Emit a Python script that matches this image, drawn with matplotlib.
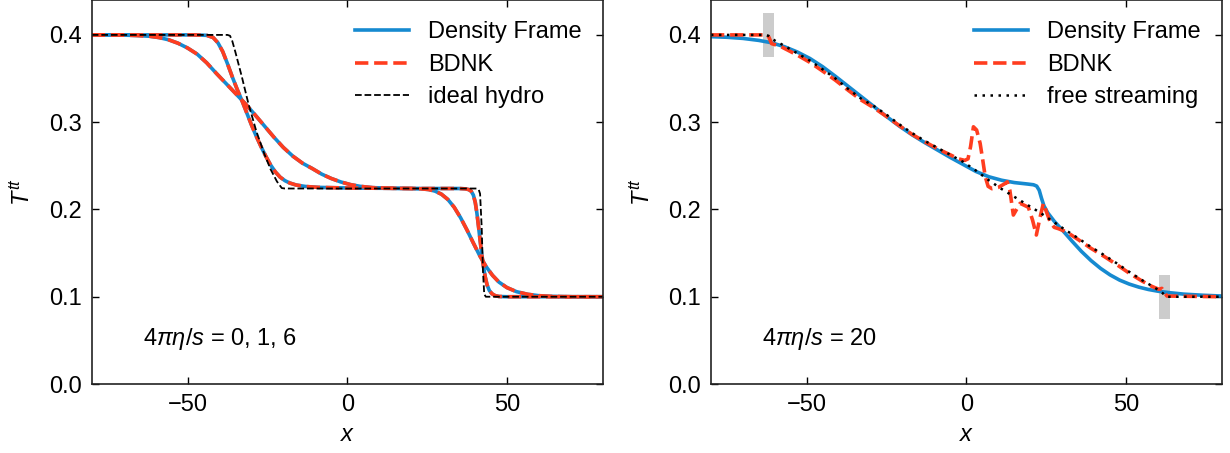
import matplotlib
matplotlib.use("Agg")
import matplotlib.pyplot as plt
import numpy as np

plt.rcParams['font.family'] = ['Liberation Sans', 'DejaVu Sans']
plt.rcParams['mathtext.fontset'] = 'custom'
plt.rcParams['mathtext.rm'] = 'Liberation Sans'
plt.rcParams['mathtext.it'] = 'Liberation Sans:italic'
plt.rcParams['font.size'] = 17

# ---- left panel: 4 pi eta/s = 0, 1, 6 ----
ideal_x = [-80, -37.5, -36.7, -36, -35, -33, -31, -28.5, -26, -24, -22, -21, -20.5, -19.5,
           40.5, 41.2, 41.6, 42.1, 42.5, 42.9, 43.4, 80]
ideal_y = [0.4, 0.4, 0.399, 0.393, 0.38, 0.352, 0.322, 0.29, 0.264, 0.246, 0.232, 0.227, 0.2245, 0.224,
           0.224, 0.2225, 0.218, 0.18, 0.13, 0.103, 0.1, 0.1]

eta1_x = [-80, -48, -44, -42, -40.5, -39, -37.5, -36, -34.5, -33, -31.5, -30, -28.5, -27, -25.5,
          -24, -22.5, -21, -19.5, -18, -16, -13, -9, 0, 20, 35, 37, 38, 38.8, 39.5, 40.1, 40.6,
          41.1, 41.6, 42.1, 42.6, 43.2, 43.8, 44.5, 45.3, 46.3, 47.5, 50, 80]
eta1_y = [0.4, 0.4, 0.3995, 0.397, 0.391, 0.381, 0.367, 0.352, 0.338, 0.325, 0.311, 0.297, 0.284,
          0.272, 0.261, 0.251, 0.243, 0.237, 0.233, 0.2303, 0.228, 0.2263, 0.2253, 0.2246, 0.224,
          0.224, 0.2236, 0.2228, 0.221, 0.2165, 0.208, 0.196, 0.181, 0.165, 0.1497, 0.136, 0.123,
          0.1135, 0.1072, 0.1035, 0.1013, 0.1003, 0.1, 0.1]

eta6_x = [-80, -72, -66, -62, -59, -56, -53, -50, -47, -44, -41, -38, -35, -32, -29, -26, -23, -20,
          -17, -14, -11, -8, -5, -2, 1, 4, 8, 14, 20, 23, 25.5, 27.5, 29.5, 31.5, 33.5, 35.5, 37.5,
          39.5, 41.5, 43.5, 45.5, 47.5, 50, 53, 56.5, 60, 64, 70, 80]
eta6_y = [0.4, 0.4, 0.3993, 0.3985, 0.397, 0.3945, 0.3905, 0.385, 0.378, 0.368, 0.356, 0.3445,
          0.333, 0.3215, 0.309, 0.296, 0.283, 0.271, 0.261, 0.253, 0.247, 0.2405, 0.2355, 0.2315,
          0.2285, 0.2265, 0.225, 0.2243, 0.224, 0.2237, 0.2228, 0.221, 0.2175, 0.2115, 0.2025,
          0.1905, 0.1765, 0.1615, 0.147, 0.1345, 0.1245, 0.1168, 0.1105, 0.1058, 0.1028, 0.1012,
          0.1004, 0.1, 0.1]

# BDNK lies on top of the density frame result in the left panel
bdnk1_x, bdnk1_y = eta1_x, eta1_y
bdnk6_x, bdnk6_y = eta6_x, eta6_y

# ---- right panel: 4 pi eta/s = 20 ----
df20_x = [-80, -75, -70, -65, -61, -57, -53, -49, -45, -41, -37, -33, -29, -25, -21, -17, -13, -9,
          -5, -1, 3, 7, 11, 15, 19, 21, 22, 22.8, 23.5, 24.3, 25.5, 27.5, 30, 33, 36, 39, 42, 45,
          48, 51, 54, 57, 60, 64, 68, 74, 80]
df20_y = [0.398, 0.3973, 0.396, 0.3937, 0.391, 0.3865, 0.3805, 0.373, 0.3635, 0.3525, 0.341,
          0.3295, 0.318, 0.3065, 0.2955, 0.2855, 0.2765, 0.268, 0.2595, 0.2515, 0.2435, 0.2375,
          0.2335, 0.2308, 0.2292, 0.2283, 0.2268, 0.222, 0.213, 0.204, 0.196, 0.1865, 0.1765,
          0.164, 0.152, 0.1415, 0.1325, 0.125, 0.119, 0.1145, 0.111, 0.1083, 0.1063, 0.1045,
          0.103, 0.1017, 0.1008]

fs_x = [-80, -63, -62, -60, -57, -53, -49, -45, -41, -37, -33, -29, -25, -21, -17, -13, -9, -5, -1,
        3, 7, 11, 15, 19, 23, 27, 31, 35, 39, 43, 47, 51, 55, 58, 60, 61.5, 62.5, 80]
fs_y = [0.4, 0.4, 0.399, 0.3935, 0.3875, 0.379, 0.3705, 0.3605, 0.35, 0.338, 0.327, 0.3185,
        0.3085, 0.2975, 0.2875, 0.2785, 0.2705, 0.2625, 0.2545, 0.2445, 0.2335, 0.2235, 0.2145,
        0.2055, 0.1965, 0.1865, 0.1765, 0.167, 0.157, 0.148, 0.1385, 0.1285, 0.119, 0.1125,
        0.108, 0.104, 0.1, 0.1]

bd20_x = [-80, -62.3, -61.8, -61, -58.3, -53, -49, -45, -41, -37, -33, -29, -25, -21, -17, -13, -9,
          -5, -2.5, -0.5, 0.5, 1.3, 2.2, 3.2, 4.3, 5.1, 5.9, 6.8, 8, 10, 12, 12.8, 13.6, 14.7,
          15.7, 16.8, 18, 19.4, 20.7, 21.9, 23, 24.1, 25.2, 26.2, 27.5, 28.8, 31.5, 35, 39, 43,
          47, 51, 55, 58, 60.3, 61.2, 62, 62.8, 80]
bd20_y = [0.4, 0.4, 0.397, 0.390, 0.387, 0.377, 0.3685, 0.3585, 0.348, 0.3365, 0.3255, 0.3165,
          0.3065, 0.296, 0.286, 0.2775, 0.2695, 0.2625, 0.258, 0.2562, 0.258, 0.272, 0.2947, 0.291,
          0.2757, 0.257, 0.2375, 0.2265, 0.2238, 0.2253, 0.2295, 0.2317, 0.222, 0.1936, 0.2, 0.207,
          0.205, 0.2025, 0.188, 0.1707, 0.19, 0.207, 0.196, 0.186, 0.1795, 0.178, 0.174, 0.1655,
          0.1555, 0.1465, 0.137, 0.127, 0.118, 0.112, 0.1085, 0.1096, 0.105, 0.1008, 0.1]

box_x = [-62, 62]
box_y = [0.4, 0.1]

blue = '#168ad0'
red = '#ff3d1f'

fig = plt.figure(figsize=(12.3, 4.53), dpi=100)
ax1 = fig.add_axes([0.0746, 0.1523, 0.4154, 0.8477])
ax2 = fig.add_axes([0.578, 0.1523, 0.4154, 0.8477])

ax1.plot(eta1_x, eta1_y, color=blue, lw=2.6, label='Density Frame')
ax1.plot(eta6_x, eta6_y, color=blue, lw=2.6)
ax1.plot(bdnk1_x, bdnk1_y, color=red, lw=2.6, ls='--', label='BDNK')
ax1.plot(bdnk6_x, bdnk6_y, color=red, lw=2.6, ls='--')
ax1.plot(ideal_x, ideal_y, color='black', lw=1.3, ls='--', label='ideal hydro')
ax1.text(-64, 0.052, r'$4\pi\eta/s$ = 0, 1, 6', va='center', ha='left')

ax2.bar(box_x, 0.05, width=3.4, bottom=np.array(box_y) - 0.025, color='#cccccc', zorder=0)
ax2.plot(df20_x, df20_y, color=blue, lw=2.6, label='Density Frame')
ax2.plot(bd20_x, bd20_y, color=red, lw=2.6, ls='--', label='BDNK')
ax2.plot(fs_x, fs_y, color='black', lw=1.8, ls=(0, (1, 2.2)), label='free streaming')
ax2.text(-64, 0.052, r'$4\pi\eta/s$ = 20', va='center', ha='left')

for ax in (ax1, ax2):
    ax.set_xlim(-80, 80)
    ax.set_ylim(0, 0.44)
    ax.set_xticks([-50, 0, 50])
    ax.set_yticks([0.0, 0.1, 0.2, 0.3, 0.4])
    ax.tick_params(direction='in', top=True, right=True, length=5, width=1, pad=7)
    for s in ax.spines.values():
        s.set_linewidth(1.2)
        s.set_color('#222222')
    ax.set_xlabel(r'$x$', labelpad=6)
    ax.set_ylabel(r'$T^{tt}$', labelpad=10)
    ax.legend(loc='upper right', frameon=False, handlelength=2.3, labelspacing=0.45)

fig.savefig('out.png', dpi=100)
